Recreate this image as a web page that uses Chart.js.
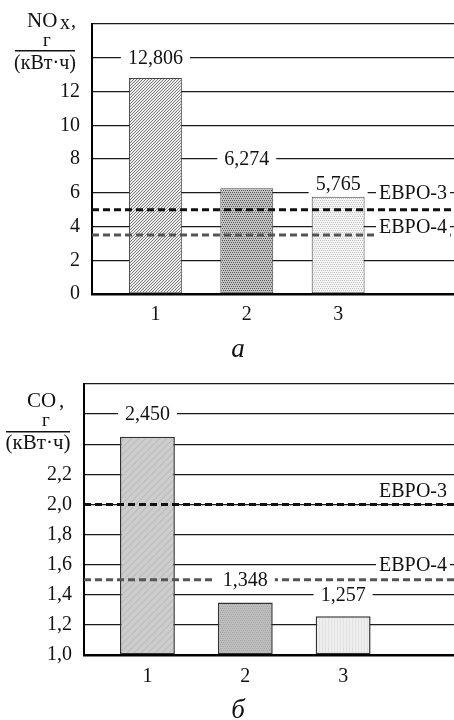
<!DOCTYPE html>
<html><head><meta charset="utf-8">
<script src="https://cdn.jsdelivr.net/npm/chart.js@4/dist/chart.umd.min.js"></script>
<style>
html,body{margin:0;padding:0;background:#fff;}
.wrap{position:relative;width:454px;height:360px;}
canvas{display:block;}
</style></head><body>
<div class="wrap"><canvas id="c1" width="454" height="360"></canvas></div>
<div class="wrap"><canvas id="c2" width="454" height="360"></canvas></div>
<script>
// ---- data ----
const categories = [1, 2, 3];
const noxValues = [12.806, 6.274, 5.765];
const noxTickLabels = ['0', '2', '4', '6', '8', '10', '12'];
const noxNorms = [5.0, 3.5];
const coValues = [2.450, 1.348, 1.257];
const coTickLabels = ['1,0', '1,2', '1,4', '1,6', '1,8', '2,0', '2,2'];
const coNorms = [2.0, 1.5];
const normNames = ['ЕВРО-3', 'ЕВРО-4'];

const SERIF = '"Liberation Serif", "DejaVu Serif", serif';
const fmt = v => v.toFixed(3).replace('.', ',');

function pattern(size, bg, draw) {
  const c = document.createElement('canvas');
  c.width = c.height = size;
  const g = c.getContext('2d');
  g.fillStyle = bg; g.fillRect(0, 0, size, size);
  draw(g, size);
  return document.createElement('canvas').getContext('2d').createPattern(c, 'repeat');
}
function diag(col, w) {
  return (g, s) => {
    g.strokeStyle = col; g.lineWidth = w;
    g.beginPath();
    g.moveTo(-1, s + 1); g.lineTo(s + 1, -1);
    g.moveTo(-1, 1); g.lineTo(1, -1);
    g.moveTo(s - 1, s + 1); g.lineTo(s + 1, s - 1);
    g.stroke();
  };
}
function dots(col, step) {
  return (g, s) => {
    g.fillStyle = col;
    for (let y = 0; y < s; y += step) for (let x = (y / step) % 2 ? 1 : 0; x < s; x += step) g.fillRect(x, y, 1, 1);
  };
}

const topFills = [
  pattern(3, '#eeeeee', diag('#6a6a6a', 0.9)),
  pattern(4, '#c4c4c4', dots('#555', 2)),
  pattern(4, '#f4f4f4', dots('#c4c4c4', 2))
];
const botFills = [
  pattern(7, '#cdcdcd', diag('#bcbcbc', 1.2)),
  pattern(4, '#bdbdbd', dots('#a8a8a8', 2)),
  pattern(3, '#eeeeee', (g) => { g.fillStyle = '#e2e2e2'; g.fillRect(1, 0, 1, 3); })
];

const annot = {
  id: 'annot',
  afterDatasetsDraw(chart, args, o) {
    const ctx = chart.ctx, ys = chart.scales.y, ca = chart.chartArea;
    const bars = chart.getDatasetMeta(chart.data.datasets.length - 1).data;
    ctx.save();
    ctx.font = '20px ' + SERIF;
    ctx.textBaseline = 'middle';
    ctx.textAlign = 'center';
    const box = (txt, cx, cy, pad) => {
      const w = ctx.measureText(txt).width;
      ctx.fillStyle = '#fff';
      ctx.fillRect(cx - w / 2 - pad, cy - 11, w + 2 * pad, 22);
      ctx.fillStyle = '#111';
      ctx.fillText(txt, cx, cy + 1);
    };
    o.values.forEach((v, i) => {
      box(fmt(v), bars[i].x, ys.getPixelForValue(o.valueLevels[i]), o.valPad);
    });
    normNames.forEach((t, i) => {
      const w = ctx.measureText(t).width;
      box(t, ca.right - o.normRight - w / 2, ys.getPixelForValue(o.normLevels[i]), 3);
    });
    ctx.restore();
  },
  afterDraw(chart, args, o) {
    const ctx = chart.ctx;
    ctx.save();
    ctx.fillStyle = '#111';
    ctx.textBaseline = 'alphabetic';
    o.title(ctx);
    ctx.font = 'italic 27px ' + SERIF;
    ctx.textAlign = 'center';
    ctx.fillText(o.caption, 238, o.captionY);
    ctx.restore();
  }
};

function makeChart(id, c) {
  return new Chart(document.getElementById(id), {
    type: 'bar',
    data: {
      datasets: [
        ...c.norms.map((v, i) => ({
          type: 'line',
          data: [{ x: c.xMin, y: v }, { x: c.xMax, y: v }],
          borderColor: i === 0 ? '#111' : '#555',
          borderWidth: 3,
          borderDash: [7, 4],
          pointRadius: 0,
          order: 1
        })),
        {
          type: 'bar',
          data: categories.map((x, i) => ({ x, y: c.values[i] })),
          backgroundColor: c.fills,
          borderColor: c.barBorder,
          borderWidth: c.barBorderWidth,
          borderSkipped: false,
          categoryPercentage: 1,
          barPercentage: c.barPct,
          base: c.yMin,
          order: 2
        }
      ]
    },
    options: {
      responsive: false,
      animation: false,
      devicePixelRatio: 1,
      layout: { padding: { top: c.padTop, right: 0, left: 0, bottom: 0 } },
      plugins: {
        legend: { display: false },
        tooltip: { enabled: false },
        annot: {
          values: c.values, valueLevels: c.valueLevels, normLevels: c.normLevels,
          valPad: 7, normRight: 7, title: c.title, caption: c.caption, captionY: c.captionY
        }
      },
      scales: {
        x: {
          type: 'linear', min: c.xMin, max: c.xMax, offset: false,
          afterBuildTicks: s => { s.ticks = categories.map(v => ({ value: v })); },
          afterFit: s => { s.height = c.xHeight; },
          grid: { display: false, drawTicks: false, offset: false },
          border: { display: true, color: '#000', width: 2.5 },
          ticks: { color: '#111', font: { family: SERIF, size: 20 }, padding: c.xPad, callback: v => String(v), autoSkip: false, maxRotation: 0 }
        },
        y: {
          min: c.yMin, max: c.yMax,
          afterFit: s => { s.width = c.yWidth; },
          grid: { color: '#1a1a1a', lineWidth: 1.3, drawTicks: false },
          border: { display: true, color: '#000', width: 2 },
          ticks: {
            stepSize: c.step, color: '#111', font: { family: SERIF, size: 20 }, padding: 12,
            callback: (v, i) => c.tickLabels[i] || ''
          }
        }
      }
    },
    plugins: [annot]
  });
}

makeChart('c1', {
  values: noxValues, norms: noxNorms, fills: topFills, tickLabels: noxTickLabels,
  barBorder: '#444', barBorderWidth: 1,
  xMin: 0.306, xMax: 4.268, barPct: 0.579,
  yMin: 0, yMax: 16, step: 2,
  padTop: 18, yWidth: 92, xHeight: 66, xPad: 9,
  valueLevels: [14, 8, 6.55], normLevels: [6, 4],
  caption: 'а', captionY: 357,
  title: (ctx) => {
    ctx.textAlign = 'left';
    ctx.font = '21px ' + SERIF;
    ctx.fillText('NO', 27, 27);
    ctx.font = '20px ' + SERIF;
    ctx.fillText('x', 60, 29);
    ctx.fillText(',', 71, 27);
    ctx.textAlign = 'center';
    ctx.font = '19px ' + SERIF;
    ctx.fillText('г', 47, 46);
    ctx.fillRect(15, 50, 60, 1.5);
    ctx.font = '20px ' + SERIF;
    ctx.fillText('(кВт·ч)', 45, 69);
  }
});

makeChart('c2', {
  values: coValues, norms: coNorms, fills: botFills, tickLabels: coTickLabels,
  barBorder: '#333', barBorderWidth: 1.5,
  xMin: 0.352, xMax: 4.133, barPct: 0.561,
  yMin: 1, yMax: 2.8, step: 0.2,
  padTop: 23, yWidth: 84, xHeight: 65, xPad: 10,
  valueLevels: [2.6, 1.5, 1.4], normLevels: [2.093, 1.6],
  caption: 'б', captionY: 358,
  title: (ctx) => {
    ctx.textAlign = 'left';
    ctx.font = '21px ' + SERIF;
    ctx.fillText('CO', 27, 47);
    ctx.fillText(',', 59, 47);
    ctx.textAlign = 'center';
    ctx.font = '19px ' + SERIF;
    ctx.fillText('г', 46, 66);
    ctx.fillRect(6, 71, 64, 1.5);
    ctx.font = '21px ' + SERIF;
    ctx.fillText('(кВт·ч)', 38, 89);
  }
});
</script>
</body></html>
